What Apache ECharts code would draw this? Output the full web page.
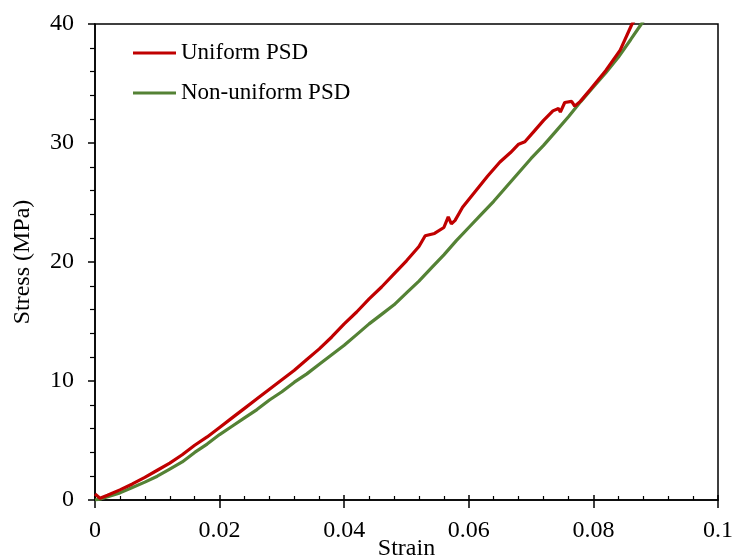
<!DOCTYPE html>
<html>
<head>
<meta charset="utf-8">
<script src="https://cdn.jsdelivr.net/npm/echarts@6/dist/echarts.min.js"></script>
<style>
  html, body { margin: 0; padding: 0; background: #fff; }
  #chart { width: 734px; height: 558px; }
</style>
</head>
<body>
<div id="chart"></div>
<script>
// Stress-strain curves for two particle size distributions
const seriesNames = ['Uniform PSD', 'Non-uniform PSD'];

const uniformStrain = [0, 0.0008, 0.002, 0.004, 0.006, 0.008, 0.010, 0.012, 0.014, 0.016, 0.018, 0.020, 0.022, 0.024, 0.026, 0.028, 0.030, 0.032, 0.034, 0.036, 0.038, 0.040, 0.042, 0.044, 0.046, 0.048, 0.050, 0.052, 0.053, 0.0545, 0.056, 0.0567, 0.0572, 0.0578, 0.059, 0.061, 0.063, 0.065, 0.0667, 0.068, 0.069, 0.0705, 0.072, 0.0735, 0.0744, 0.0747, 0.0754, 0.0765, 0.077, 0.0779, 0.0795, 0.082, 0.0843, 0.0862, 0.087];
const uniformStress = [0.5, 0.15, 0.4, 0.85, 1.35, 1.9, 2.5, 3.1, 3.8, 4.6, 5.3, 6.1, 6.9, 7.7, 8.5, 9.3, 10.1, 10.9, 11.8, 12.7, 13.7, 14.8, 15.8, 16.9, 17.9, 19.0, 20.1, 21.3, 22.2, 22.4, 22.9, 23.8, 23.2, 23.5, 24.6, 25.9, 27.2, 28.4, 29.2, 29.9, 30.1, 31.0, 31.9, 32.7, 32.9, 32.6, 33.4, 33.5, 33.1, 33.5, 34.5, 36.1, 37.8, 40.0, 40.6];

const nonUniformStrain = [0, 0.001, 0.004, 0.006, 0.008, 0.010, 0.012, 0.014, 0.016, 0.018, 0.020, 0.022, 0.024, 0.026, 0.028, 0.030, 0.032, 0.034, 0.036, 0.038, 0.040, 0.042, 0.044, 0.046, 0.048, 0.050, 0.052, 0.054, 0.056, 0.058, 0.060, 0.062, 0.064, 0.066, 0.068, 0.070, 0.072, 0.074, 0.076, 0.078, 0.080, 0.082, 0.084, 0.086, 0.0877, 0.0885];
const nonUniformStress = [0.0, 0.1, 0.6, 1.05, 1.5, 2.0, 2.6, 3.2, 4.0, 4.7, 5.5, 6.2, 6.9, 7.6, 8.4, 9.1, 9.9, 10.6, 11.4, 12.2, 13.0, 13.9, 14.8, 15.6, 16.4, 17.4, 18.4, 19.5, 20.6, 21.8, 22.9, 24.0, 25.1, 26.3, 27.5, 28.7, 29.8, 31.0, 32.2, 33.5, 34.7, 35.9, 37.2, 38.7, 40.0, 40.6];

const xTickLabels = ['0', '0.02', '0.04', '0.06', '0.08', '0.1'];

const FONT = '"Liberation Serif", "Times New Roman", serif';
const BLACK = '#000';

function zip(xs, ys) { return xs.map((x, i) => [x, ys[i]]); }

const xBase = { type: 'value', min: 0, max: 0.1, interval: 0.02, splitLine: { show: false } };
const yBase = { type: 'value', min: 0, max: 40, interval: 10, splitLine: { show: false } };

const chart = echarts.init(document.getElementById('chart'), null, { renderer: 'canvas' });
chart.setOption({
  backgroundColor: '#fff',
  animation: false,
  grid: {
    left: 95, right: 16, top: 24, bottom: 58,
    outerBoundsMode: 'none', containLabel: false,
    show: true, borderColor: BLACK, borderWidth: 1.5, backgroundColor: 'transparent'
  },
  legend: {
    orient: 'vertical',
    left: 133, top: 41, padding: 0,
    itemWidth: 43, itemHeight: 3, itemGap: 16,
    icon: 'rect',
    textStyle: { fontFamily: FONT, fontSize: 23, color: BLACK, lineHeight: 24 },
    data: seriesNames
  },
  xAxis: [
    Object.assign({}, xBase, {
      position: 'bottom',
      name: 'Strain', nameLocation: 'middle', nameGap: 37, nameMoveOverlap: false,
      nameTextStyle: { fontFamily: FONT, fontSize: 24, color: BLACK },
      axisLine: { show: true, onZero: false, lineStyle: { color: BLACK, width: 1.5 } },
      axisTick: { show: true, inside: false, length: 8, lineStyle: { color: BLACK, width: 1.5 } },
      minorTick: { show: false },
      axisLabel: {
        fontFamily: FONT, fontSize: 24, color: BLACK, margin: 19,
        formatter: (v) => xTickLabels[Math.round(v / 0.02)]
      }
    }),
    Object.assign({}, xBase, {
      position: 'bottom',
      axisLine: { show: false },
      axisTick: { show: true, inside: true, length: 5, lineStyle: { color: BLACK, width: 1.5 } },
      minorTick: { show: true, splitNumber: 5, length: 4, lineStyle: { color: BLACK, width: 1.2 } },
      axisLabel: { show: false }
    })
  ],
  yAxis: [
    Object.assign({}, yBase, {
      position: 'left',
      name: 'Stress (MPa)', nameLocation: 'middle', nameGap: 60, nameMoveOverlap: false,
      nameTextStyle: { fontFamily: FONT, fontSize: 24, color: BLACK },
      axisLine: { show: true, onZero: false, lineStyle: { color: BLACK, width: 1.5 } },
      axisTick: { show: true, inside: false, length: 7, lineStyle: { color: BLACK, width: 1.5 } },
      minorTick: { show: true, splitNumber: 5, length: 5, lineStyle: { color: BLACK, width: 1.2 } },
      axisLabel: { fontFamily: FONT, fontSize: 24, color: BLACK, margin: 21 }
    })
  ],
  series: [
    {
      name: seriesNames[0], type: 'line', xAxisIndex: 0, yAxisIndex: 0,
      data: zip(uniformStrain, uniformStress),
      showSymbol: false, clip: true, z: 3,
      lineStyle: { color: '#C00000', width: 3.2 }, itemStyle: { color: '#C00000' }
    },
    {
      name: seriesNames[1], type: 'line', xAxisIndex: 0, yAxisIndex: 0,
      data: zip(nonUniformStrain, nonUniformStress),
      showSymbol: false, clip: true, z: 2,
      lineStyle: { color: '#548235', width: 3.2 }, itemStyle: { color: '#548235' }
    }
  ]
});
</script>
</body>
</html>
